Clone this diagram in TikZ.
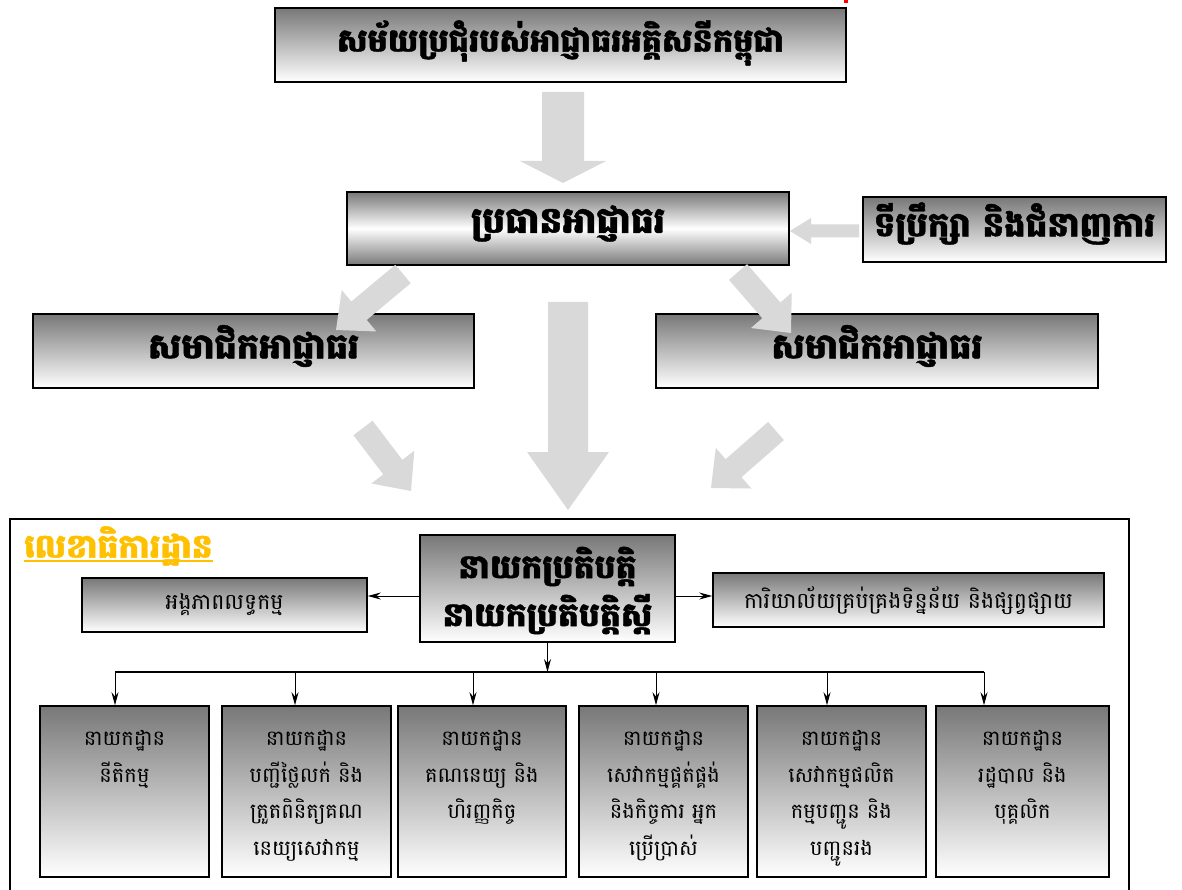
\documentclass[tikz,border=0pt]{standalone}
\usepackage{fontspec}
\usetikzlibrary{arrows.meta,fit,calc}
\newfontfamily\kh[Script=Khmer]{Battambang}
\newfontfamily\khh[Script=Khmer,BoldFeatures={FakeBold=1.2}]{Battambang}
\definecolor{agray}{RGB}{217,217,217}
\definecolor{goldc}{RGB}{255,192,0}
\definecolor{topgray}{RGB}{120,120,120}
\newcommand\blockarr[5]{%
  \path ($(#2)!#5!(#1)$) coordinate (bh);
  \fill[agray] ($(#1)!#3!90:(#2)$) -- ($(bh)!#3!90:(#2)$) -- ($(bh)!#4!90:(#2)$) -- (#2)
    -- ($(bh)!#4!-90:(#2)$) -- ($(bh)!#3!-90:(#2)$) -- ($(#1)!#3!-90:(#2)$) -- cycle;
}
\begin{document}
\begin{tikzpicture}[x=1pt,y=-1pt,
  gbox/.style={draw=black, line width=1.5pt, inner sep=0pt, top color=topgray, bottom color=white},
  mbox/.style={draw=black, line width=1.5pt, inner sep=0pt, top color=topgray, bottom color=topgray, middle color=white},
  headf/.style={inner sep=0pt, align=center, font=\khh\bfseries\fontsize{#1}{48}\selectfont},
  regf/.style={inner sep=0pt, font=\kh\fontsize{22}{37}\selectfont},
  btext/.style={align=center, inner sep=0pt, font=\kh\fontsize{21}{36.5}\selectfont},
  conn/.style={draw=black, line width=1pt, -{Stealth[length=13pt,width=7pt]}},
]
\useasboundingbox (0,0) rectangle (1182,890);
\fill[white] (0,0) rectangle (1182,890);
\fill[red] (844,0) rectangle (848,3);

% upper hierarchy boxes
\node[gbox, fit={(275,8)(846,82)}] (session) {};
\node[mbox, fit={(347,192)(789,265)}] (chair) {};
\node[gbox, fit={(863,197)(1166,262)}] (advisor) {};
\node[gbox, fit={(33,314)(474,388)}] (memL) {};
\node[gbox, fit={(656,314)(1098,388)}] (memR) {};
\node[headf=32] (sessionT) at ([yshift=2pt]session.center) {សម័យប្រជុំរបស់អាជ្ញាធរអគ្គិសនីកម្ពុជា};
\node[headf=36] (chairT) at ([yshift=5pt]chair.center) {ប្រធានអាជ្ញាធរ};
\node[headf=34] (advisorT) at ([yshift=6pt]advisor.center) {ទីប្រឹក្សា និងជំនាញការ};
\node[headf=35] (memLT) at ([yshift=5pt]memL.center) {សមាជិកអាជ្ញាធរ};
\node[headf=35] (memRT) at ([yshift=5pt]memR.center) {សមាជិកអាជ្ញាធរ};

% block arrows
\coordinate (a1s) at (563,92);  \coordinate (a1t) at (563,183);
\coordinate (a2s) at (859,231); \coordinate (a2t) at (790,231);
\coordinate (a3s) at (403,274); \coordinate (a3t) at (336,330);
\coordinate (a4s) at (738,272); \coordinate (a4t) at (791,333);
\coordinate (a5s) at (568,302); \coordinate (a5t) at (568,510);
\coordinate (a6s) at (363,428); \coordinate (a6t) at (411,491);
\coordinate (a7s) at (776,431); \coordinate (a7t) at (711,488);
\blockarr{a1s}{a1t}{21pt}{43pt}{22pt}
\blockarr{a2s}{a2t}{6.5pt}{13pt}{21pt}
\blockarr{a3s}{a3t}{12pt}{27pt}{30pt}
\blockarr{a4s}{a4t}{12pt}{27pt}{30pt}
\blockarr{a5s}{a5t}{20pt}{41pt}{58pt}
\blockarr{a6s}{a6t}{12pt}{27pt}{30pt}
\blockarr{a7s}{a7t}{12pt}{27pt}{30pt}

% secretariat frame
\draw[line width=1.5pt] (10,895) -- (10,519) -- (1129,519) -- (1129,895);
\node[anchor=west, text=goldc, headf=33] (sec) at (24,546) {លេខាធិការដ្ឋាន};
\draw[goldc, line width=1.5pt] (sec.west |- 0,561) -- (sec.east |- 0,561);

\node[gbox, fit={(420,535)(675,642)}] (exec) {};
\node[headf=33] (execT) at ([yshift=-2pt]exec.center) {នាយកប្រតិបត្តិ\\នាយកប្រតិបត្តិស្តី};
\node[gbox, fit={(82,578)(367,632)}] (proc) {};
\node[regf] (procT) at ([yshift=0pt]proc.center) {អង្គភាពលទ្ធកម្ម};
\node[gbox, fit={(713,573)(1104,627)}] (data) {};
\node[regf] (dataT) at ([yshift=-1pt]data.center) {ការិយាល័យគ្រប់គ្រងទិន្នន័យ និងផ្សព្វផ្សាយ};

\coordinate (ly) at (0,596);
\draw[conn] (exec.west |- ly) -- (proc.east |- ly);
\draw[conn] (exec.east |- ly) -- (data.west |- ly);

% departments
\node[gbox, fit={(40,706)(209,877)}] (b1) {};
\node[gbox, fit={(222,706)(391,877)}] (b2) {};
\node[gbox, fit={(398,706)(566,877)}] (b3) {};
\node[gbox, fit={(579,706)(748,877)}] (b4) {};
\node[gbox, fit={(757,706)(926,877)}] (b5) {};
\node[gbox, fit={(936,706)(1109,877)}] (b6) {};
\node[btext, anchor=north] (t1) at ($(b1.north)+(0,25)$) {នាយកដ្ឋាន\\នីតិកម្ម};
\node[btext, anchor=north] (t2) at ($(b2.north)+(0,25)$) {នាយកដ្ឋាន\\បញ្ជីថ្លៃលក់ និង\\ត្រួតពិនិត្យគណ\\នេយ្យសេវាកម្ម};
\node[btext, anchor=north] (t3) at ($(b3.north)+(0,25)$) {នាយកដ្ឋាន\\គណនេយ្យ និង\\ហិរញ្ញកិច្ច};
\node[btext, anchor=north] (t4) at ($(b4.north)+(0,25)$) {នាយកដ្ឋាន\\សេវាកម្មផ្គត់ផ្គង់\\និងកិច្ចការ អ្នក\\ប្រើប្រាស់};
\node[btext, anchor=north] (t5) at ($(b5.north)+(0,25)$) {នាយកដ្ឋាន\\សេវាកម្មផលិត\\កម្មបញ្ជូន និង\\បញ្ជូនរង};
\node[btext, anchor=north] (t6) at ($(b6.north)+(0,25)$) {នាយកដ្ឋាន\\រដ្ឋបាល និង\\បុគ្គលិក};

% bus
\coordinate (busL) at (115,672);
\coordinate (busR) at (984,672);
\draw[conn] (exec.south) -- (exec.south |- busL);
\draw[line width=2pt] (busL) -- (busR);
\coordinate (d1) at (115,672);
\coordinate (d2) at (295,672);
\coordinate (d3) at (473,672);
\coordinate (d4) at (656,672);
\coordinate (d5) at (827,672);
\coordinate (d6) at (984,672);
\foreach \i in {1,...,6} { \draw[conn] (d\i) -- (d\i |- b\i.north); }
\end{tikzpicture}
\end{document}
